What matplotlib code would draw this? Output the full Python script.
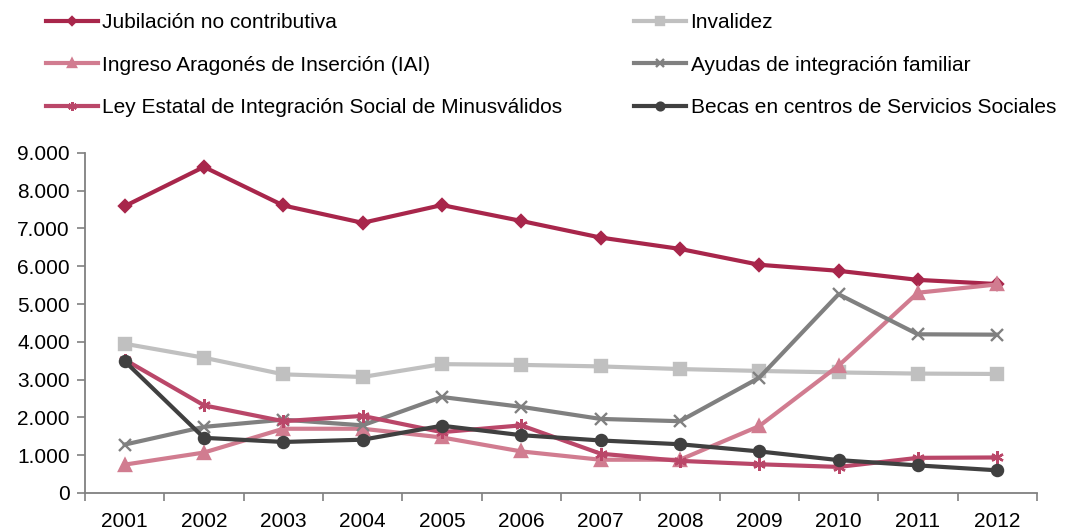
import matplotlib
matplotlib.use("Agg")
import matplotlib.pyplot as plt
from matplotlib.ticker import FuncFormatter, FixedLocator

plt.rcParams["font.family"] = ["Liberation Sans", "DejaVu Sans"]

anios = ["2001", "2002", "2003", "2004", "2005", "2006",
         "2007", "2008", "2009", "2010", "2011", "2012"]

jubilacion = [7590, 8630, 7610, 7150, 7620, 7200, 6760, 6460, 6040, 5880, 5640, 5530]
invalidez = [3950, 3580, 3140, 3070, 3410, 3390, 3350, 3280, 3230, 3190, 3160, 3150]
iai = [750, 1070, 1700, 1700, 1470, 1100, 880, 880, 1770, 3370, 5300, 5520]
ayudas = [1280, 1750, 1940, 1790, 2540, 2280, 1960, 1900, 3050, 5260, 4200, 4190]
ley_minusvalidos = [3530, 2320, 1900, 2040, 1610, 1790, 1040, 850, 760, 690, 930, 940]
becas = [3490, 1460, 1350, 1410, 1780, 1530, 1390, 1290, 1100, 870, 730, 600]

series = [
    ("Jubilación no contributiva", jubilacion, "#A8264B", "D", 6),
    ("Invalidez", invalidez, "#C0C0C0", "s", 8),
    ("Ingreso Aragonés de Inserción (IAI)", iai, "#D17C90", "^", 8),
    ("Ayudas de integración familiar", ayudas, "#808080", "x", 9),
    ("Ley Estatal de Integración Social de Minusválidos", ley_minusvalidos, "#BA4769", (6, 2, 0), 9),
    ("Becas en centros de Servicios Sociales", becas, "#404040", "o", 8),
]

fig = plt.figure(figsize=(10.7, 5.31), dpi=100)
ax = fig.add_axes([0.0794, 0.0716, 0.8896, 0.6404])

x = list(range(len(anios)))
lineas = {}
for nombre, valores, color, marcador, tam in series:
    (ln,) = ax.plot(x, valores, color=color, linewidth=3.0, marker=marcador,
                    markersize=tam, markeredgewidth=1.7, markerfacecolor=color,
                    markeredgecolor=color, label=nombre, solid_joinstyle="round")
    lineas[nombre] = ln

ax.set_xlim(-0.5, len(anios) - 0.5)
ax.set_ylim(0, 9000)
ax.set_yticks(range(0, 9001, 1000))
ax.yaxis.set_major_formatter(FuncFormatter(lambda v, p: f"{int(v):,}".replace(",", ".")))

# marcas entre categorías, etiquetas centradas
ax.xaxis.set_major_locator(FixedLocator([i - 0.5 for i in range(len(anios) + 1)]))
ax.xaxis.set_minor_locator(FixedLocator(x))
ax.set_xticklabels([])
ax.set_xticklabels(anios, minor=True)
ax.tick_params(axis="x", which="major", length=6, width=1.2, color="#808080", direction="out")
ax.tick_params(axis="x", which="minor", length=0, pad=13.5, labelsize=15)
ax.tick_params(axis="y", length=6, width=1.2, color="#808080", direction="out",
               pad=5, labelsize=15)

for lado in ("top", "right"):
    ax.spines[lado].set_visible(False)
for lado in ("left", "bottom"):
    ax.spines[lado].set_color("#808080")
    ax.spines[lado].set_linewidth(1.3)

orden = ["Jubilación no contributiva",
         "Ingreso Aragonés de Inserción (IAI)",
         "Ley Estatal de Integración Social de Minusválidos",
         "Invalidez",
         "Ayudas de integración familiar",
         "Becas en centros de Servicios Sociales"]
fig.legend([lineas[n] for n in orden], orden, ncol=2, loc="upper left",
           bbox_to_anchor=(0.043, 0.975), frameon=False, fontsize=15,
           borderpad=0, borderaxespad=0,
           handlelength=2.5, handletextpad=0.2, labelspacing=1.12,
           columnspacing=3.45, markerscale=0.7)

fig.savefig("out.png", dpi=100)
